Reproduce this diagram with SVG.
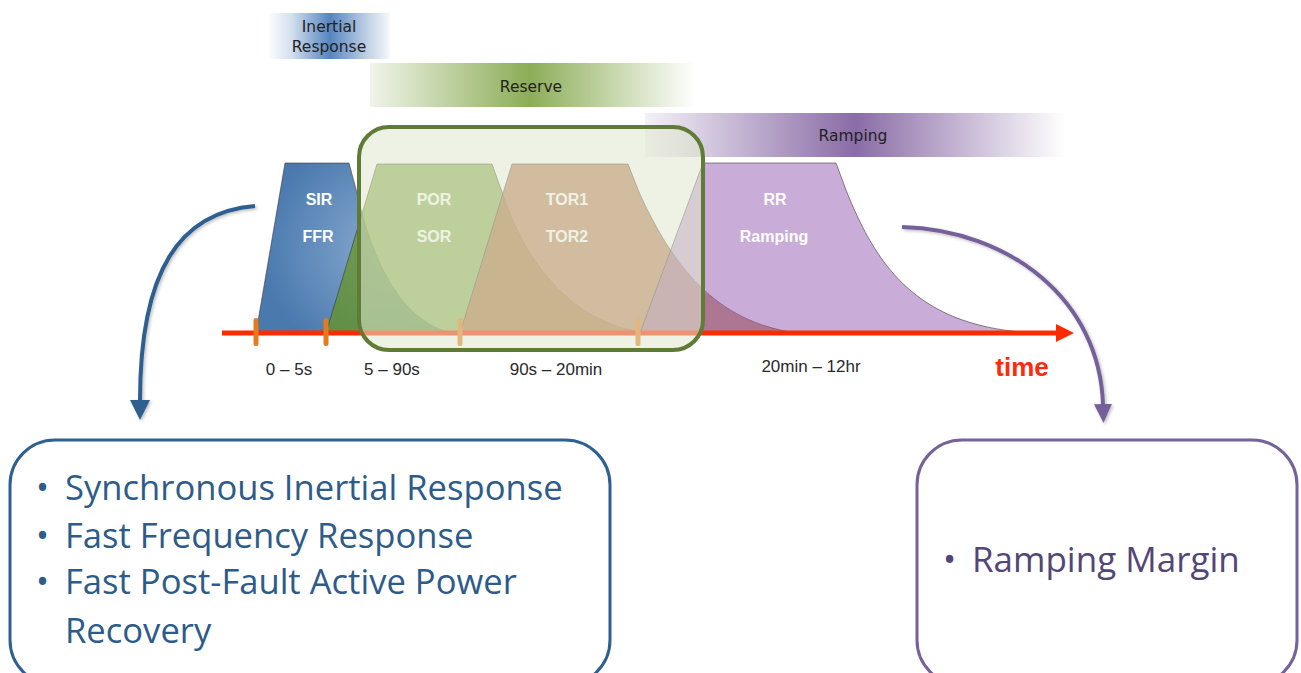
<svg xmlns="http://www.w3.org/2000/svg" width="1301" height="673" viewBox="0 0 1301 673">
<style>
.band{font-family:"DejaVu Sans",sans-serif;font-size:15.5px;fill:#222;text-anchor:middle}
.lbl{font-family:"Liberation Sans",Arial,sans-serif;font-size:16px;font-weight:bold;fill:#fff;text-anchor:middle}
.tl{font-family:"Liberation Sans",Arial,sans-serif;font-size:17px;fill:#2a2a2a;text-anchor:middle}
.edge{stroke:#333;stroke-width:0.8;stroke-opacity:0.7}
.lt{font-family:"Open Sans",sans-serif;font-size:34.6px;fill:#2d5b8a}
.rt{font-family:"Open Sans",sans-serif;font-size:35px;fill:#524678}
</style>
<defs>
<linearGradient id="gInert" x1="0" y1="0" x2="1" y2="0">
<stop offset="0" stop-color="#ffffff"/><stop offset="0.2" stop-color="#d3dfee"/><stop offset="0.51" stop-color="#5585be"/><stop offset="0.8" stop-color="#bccde3"/><stop offset="1" stop-color="#f6f8fb"/>
</linearGradient>
<linearGradient id="gRes" x1="0" y1="0" x2="1" y2="0">
<stop offset="0" stop-color="#f0f4ea"/><stop offset="0.49" stop-color="#8cad57"/><stop offset="1" stop-color="#ffffff"/>
</linearGradient>
<linearGradient id="gRamp" x1="0" y1="0" x2="1" y2="0">
<stop offset="0" stop-color="#f4f1f7"/><stop offset="0.5" stop-color="#8a6ca6"/><stop offset="1" stop-color="#ffffff"/>
</linearGradient>
<radialGradient id="gSir" cx="0.72" cy="0.5" r="0.7">
<stop offset="0" stop-color="#8eaed3"/><stop offset="1" stop-color="#4a79ae"/>
</radialGradient>
<marker id="ahBlue" markerUnits="userSpaceOnUse" markerWidth="22" markerHeight="22" refX="1" refY="10" orient="auto"><path d="M0,0 L20,10 L0,20 Z" fill="#2d5f8f"/></marker>
<marker id="ahPurple" markerUnits="userSpaceOnUse" markerWidth="22" markerHeight="22" refX="1" refY="9" orient="auto"><path d="M0,0 L19,9 L0,18 Z" fill="#76619a"/></marker>
<marker id="ahRed" markerUnits="userSpaceOnUse" markerWidth="22" markerHeight="22" refX="1" refY="9" orient="auto"><path d="M0,0 L18,9 L0,18 Z" fill="#ff2a00"/></marker>
<filter id="sh" x="-20%" y="-20%" width="140%" height="140%"><feDropShadow dx="1.5" dy="1.5" stdDeviation="1.5" flood-color="#000" flood-opacity="0.25"/></filter>
</defs>

<g id="band-inertial">
<rect x="267" y="13" width="123" height="46" fill="url(#gInert)"/>
<text class="band" x="329" y="32">Inertial</text>
<text class="band" x="329" y="52">Response</text>
</g>
<g id="band-reserve">
<rect x="370" y="63" width="325" height="44" fill="url(#gRes)"/>
<text class="band" x="531" y="92">Reserve</text>
</g>
<g id="band-ramping">
<rect x="645" y="113" width="420" height="44" fill="url(#gRamp)"/>
<text class="band" x="853" y="141">Ramping</text>
</g>

<g id="sir">
<path class="edge" d="M256,333 L285,163 L349,163 L357,193 C372,262 402,322 452,333 Z" fill="url(#gSir)"/>
</g>
<g id="por">
<path class="edge" d="M326,333 L377,164 L492,164 L502,192 C525,262 570,322 645,333 Z" fill="#65941a" fill-opacity="0.7"/>
</g>
<g id="tor">
<path class="edge" d="M460,333 L512,164 L628,164 L639,192 C672,265 715,322 797,333 Z" fill="#b06a40" fill-opacity="0.8"/>
</g>
<g id="rr">
<path class="edge" d="M640,333 L703,163 L836,163 L846,190 C878,270 920,328 1036,333 Z" fill="#9c68b8" fill-opacity="0.55"/>
</g>

<g id="axis">
<line x1="222" y1="333" x2="1057" y2="333" stroke="#ff2a00" stroke-width="5" marker-end="url(#ahRed)"/>
<rect x="253.5" y="318" width="5" height="28" rx="2.5" fill="#e37b1f"/>
<rect x="323.5" y="318" width="5" height="28" rx="2.5" fill="#e37b1f"/>
<rect x="457.5" y="318" width="5" height="28" rx="2.5" fill="#e37b1f"/>
<rect x="635.5" y="318" width="5" height="28" rx="2.5" fill="#e37b1f"/>
</g>

<g id="shape-labels">
<text class="lbl" x="319" y="205">SIR</text>
<text class="lbl" x="318" y="242">FFR</text>
<text class="lbl" x="434" y="205">POR</text>
<text class="lbl" x="434" y="242">SOR</text>
<text class="lbl" x="567" y="205">TOR1</text>
<text class="lbl" x="567" y="242">TOR2</text>
<text class="lbl" x="775" y="205">RR</text>
<text class="lbl" x="774" y="242">Ramping</text>
</g>

<g id="reserve-box">
<rect x="359" y="127" width="344" height="223" rx="30" fill="#e0e7ce" fill-opacity="0.55" stroke="#5f7b36" stroke-width="4"/>
</g>

<g id="time-labels">
<text class="tl" x="289" y="375">0 – 5s</text>
<text class="tl" x="392" y="375">5 – 90s</text>
<text class="tl" x="556" y="375">90s – 20min</text>
<text class="tl" x="811" y="372">20min – 12hr</text>
<text x="1022" y="376" font-family="Liberation Sans, Arial, sans-serif" font-size="26" font-weight="bold" fill="#ff2a0a" text-anchor="middle">time</text>
</g>

<g id="connectors" fill="none">
<path d="M255,206 C180,212 140,270 140,401" stroke="#2d5f8f" stroke-width="4" marker-end="url(#ahBlue)" filter="url(#sh)"/>
<path d="M902,227 C1010,230 1100,300 1103,405" stroke="#76619a" stroke-width="4" marker-end="url(#ahPurple)" filter="url(#sh)"/>
</g>

<g id="left-box">
<rect x="10" y="440" width="600" height="245" rx="45" fill="#fff" stroke="#2f6092" stroke-width="3"/>
<text class="lt" x="36" y="500">•</text>
<text class="lt" x="65" y="500">Synchronous Inertial Response</text>
<text class="lt" x="36" y="548">•</text>
<text class="lt" x="65" y="548">Fast Frequency Response</text>
<text class="lt" x="36" y="594">•</text>
<text class="lt" x="65" y="594">Fast Post-Fault Active Power</text>
<text class="lt" x="65" y="643">Recovery</text>
</g>

<g id="right-box">
<rect x="917" y="440" width="380" height="245" rx="45" fill="#fff" stroke="#76619a" stroke-width="3"/>
<text class="rt" x="943" y="572">•</text>
<text class="rt" x="972" y="572">Ramping Margin</text>
</g>
</svg>
